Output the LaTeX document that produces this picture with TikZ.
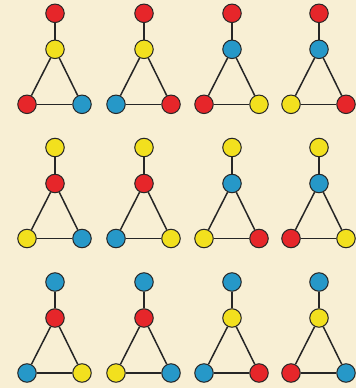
\documentclass[tikz,border=0pt]{standalone}
\definecolor{bg}{RGB}{248,239,212}
\definecolor{cr}{RGB}{230,38,42}
\definecolor{cy}{RGB}{242,224,30}
\definecolor{cb}{RGB}{38,152,200}
\tikzset{
  vtx/.style={circle,draw=black!85,line width=1pt,minimum size=18.5pt,inner sep=0pt},
  edge/.style={line width=1.5pt,black!85}
}
\begin{document}
\begin{tikzpicture}[x=1pt,y=-1pt]
\fill[bg] (0,0) rectangle (356,388);
\useasboundingbox (0,0) rectangle (356,388);
% colour table: top, mid, bl, br
\foreach \cx/\ty/\a/\b/\c/\d/\n in {
 55/13.3/cr/cy/cr/cb/a, 144/13.3/cr/cy/cb/cr/b, 232/13.3/cr/cb/cr/cy/c, 319/13.3/cr/cb/cy/cr/d,
 55/147.5/cy/cr/cy/cb/e, 144/147.5/cy/cr/cb/cy/f, 232/147.5/cy/cb/cy/cr/g, 319/147.5/cy/cb/cr/cy/h,
 55/282/cb/cr/cb/cy/i, 144/282/cb/cr/cy/cb/j, 232/282/cb/cy/cb/cr/k, 319/282/cb/cy/cr/cb/l}{
  \node[vtx,fill=\a] (\n t) at (\cx,\ty) {};
  \node[vtx,fill=\b] (\n m) at (\cx,\ty+36) {};
  \node[vtx,fill=\c] (\n l) at (\cx-28,\ty+91) {};
  \node[vtx,fill=\d] (\n r) at (\cx+27,\ty+91) {};
  \draw[edge] (\n t) -- (\n m);
  \draw[edge] (\n m) -- (\n l);
  \draw[edge] (\n m) -- (\n r);
  \draw[edge] (\n l) -- (\n r);
}
\end{tikzpicture}
\end{document}
